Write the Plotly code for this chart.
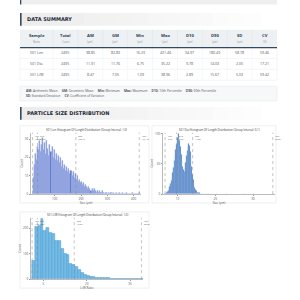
import plotly.graph_objects as go

# ---------------- data ----------------
samples = ["501 Len", "501 Dia", "501 L/W"]
total_count = [2495, 2495, 2495]
am = [98.85, 11.91, 8.47]
gm = [82.83, 11.76, 7.05]
mins = [16.23, 6.75, 1.09]
maxs = [421.46, 35.22, 38.96]
d10 = [34.97, 9.78, 2.89]
d90 = [180.49, 14.03, 15.67]
sd = [58.78, 2.05, 5.03]
cv = [59.46, 17.21, 59.42]

header_names = ["Sample", "Total", "AM", "GM", "Min", "Max", "D10", "D90", "SD", "CV"]
header_units = ["Name", "Count", "(µm)", "(µm)", "(µm)", "(µm)", "(µm)", "(µm)", "(µm)", "(%)"]

chart_titles = [
    "501 Len Histogram Of Length Distribution (Group Interval: 1.0)",
    "501 Dia Histogram Of Length Distribution (Group Interval: 0.1)",
    "501 L/W Histogram Of Length Distribution (Group Interval: 1.0)",
]

# Len histogram (bin start 16, width 4)
len_bin_start = 16
len_bin_width = 4
len_counts = [9, 16, 22, 19, 26, 24, 29, 23, 27, 31, 24, 28, 22, 29, 25, 21, 27, 23, 26, 20,
              24, 19, 22, 18, 21, 17, 20, 15, 18, 14, 16, 13, 15, 12, 14, 11, 13, 10, 12, 9,
              11, 8, 10, 7, 8, 6, 7, 5, 6, 4, 5, 4, 3, 4, 3, 2, 3, 2, 3, 2,
              1, 2, 1, 2, 1, 1, 2, 1, 0, 1, 1, 0, 1, 0, 1, 0, 1, 0, 0, 1,
              0, 0, 1, 0, 0, 1, 0, 0, 0, 1, 0, 0, 0, 0, 1, 0, 0, 0, 0, 0,
              0, 1]

# Dia histogram
dia_x = [6.6, 6.8, 7.0, 7.2, 7.4, 7.6, 7.8, 8.0, 8.2, 8.4, 8.6, 8.8, 9.0, 9.2, 9.4, 9.6, 9.8,
         10.0, 10.2, 10.4, 10.6, 10.8, 11.0, 11.2, 11.4, 11.6, 11.8, 12.0, 12.2, 12.4, 12.6,
         12.8, 13.0, 13.2, 13.4, 13.6, 13.8, 14.0, 14.2, 14.4, 14.6, 14.8, 15.0, 15.2, 15.4,
         15.6, 15.8, 16.0, 16.4, 17.0, 17.6, 18.2, 19.0, 20.4, 21.8, 23.0, 25.2, 27.4, 30.2, 35.2]
dia_counts = [1, 1, 2, 2, 4, 6, 9, 13, 17, 22, 28, 36, 44, 55, 63, 74, 82,
              93, 100, 96, 89, 78, 66, 55, 46, 40, 38, 43, 52, 63, 72,
              79, 83, 80, 71, 60, 46, 33, 24, 16, 11, 8, 6, 4, 3,
              3, 2, 2, 1, 1, 1, 1, 1, 1, 1, 1, 1, 1, 1, 1]

# L/W histogram (bin start 1, width 1)
lw_bin_start = 1
lw_counts = [72, 205, 210, 235, 190, 200, 180, 178, 152, 150, 118, 100, 94, 60, 56, 50, 36, 24,
             18, 13, 10, 8, 7, 6, 5, 4, 4, 3, 2, 2, 2, 1, 1, 1, 1, 0, 1, 0, 1]

legend_line1 = ["AM: Arithmetic Mean", "GM: Geometric Mean", "Min: Minimum", "Max: Maximum",
                "D10: 10th Percentile", "D90: 90th Percentile"]
legend_line2 = ["SD: Standard Deviation", "CV: Coefficient of Variation"]

# ---------------- helpers ----------------
W = H = 300
def px(x):
    return x / W
def py(y):
    return 1 - y / H

FONT = "Open Sans"
HEAD_FONT = "DejaVu Sans"
DARK = "#2c3e50"

fig = go.Figure()
shapes = []
annotations = []

def rect(x0, x1, y0, y1, fill, line_color=None, lw=0, layer="below"):
    shapes.append(dict(type="rect", xref="paper", yref="paper", x0=px(x0), x1=px(x1), y0=py(y1), y1=py(y0),
                       fillcolor=fill, line=dict(color=line_color or fill, width=lw), layer=layer))

def hline(x0, x1, y, color, w):
    shapes.append(dict(type="line", xref="paper", yref="paper", x0=px(x0), x1=px(x1), y0=py(y), y1=py(y),
                       line=dict(color=color, width=w), layer="above"))

def vline(x, y0, y1, color, w):
    shapes.append(dict(type="line", xref="paper", yref="paper", x0=px(x), x1=px(x), y0=py(y0), y1=py(y1),
                       line=dict(color=color, width=w), layer="above"))

def text(x, y, s, size, color, xanchor="center", family=FONT):
    annotations.append(dict(x=px(x), y=py(y), xref="paper", yref="paper", text=s, showarrow=False,
                            xanchor=xanchor, yanchor="middle", font=dict(family=family, size=size, color=color)))

# top remnant band
rect(20, 277, -1, 3.5, "#efefef")
rect(20, 21.3, -1, 3.5, "#34495e")

def heading(y0, y1, label):
    n = 16
    for i in range(n):
        c = int(0xEC + (0xFF - 0xEC) * i / (n - 1))
        xa = 20 + (277 - 20) * i / n
        xb = 20 + (277 - 20) * (i + 1) / n + 0.5
        rect(xa, xb, y0, y1, f"rgb({c},{c},{c})")
    rect(20, 21.6, y0, y1, "#34495e")
    text(25, (y0 + y1) / 2, f"<b>{label}</b>", 5, "#1c2833", xanchor="left", family=HEAD_FONT)

heading(12, 25, "DATA SUMMARY")
heading(107, 120, "PARTICLE SIZE DISTRIBUTION")

# ---------------- table (shapes + text) ----------------
tbl_x0, tbl_x1 = 20, 277
col_w = [33] + [(tbl_x1 - tbl_x0 - 33) / 9] * 9
col_edges = [tbl_x0]
for w in col_w:
    col_edges.append(col_edges[-1] + w)
head_y0, head_y1 = 29, 47
row_h = 11

rect(tbl_x0, tbl_x1, head_y0, head_y1, "#eef1f4")
rows_y1 = head_y1 + row_h * len(samples)
rect(tbl_x0, tbl_x1, head_y1, rows_y1, "white", "#e6e9ec", 0.5)
for e in col_edges[1:-1]:
    vline(e, head_y0, head_y1, "#dde2e7", 0.5)
    vline(e, head_y1, rows_y1, "#eceef0", 0.5)
for r in range(1, len(samples)):
    hline(tbl_x0, tbl_x1, head_y1 + r * row_h, "#e8eaed", 0.5)
hline(tbl_x0, tbl_x1, head_y1, "#34495e", 1.2)

centers = [(col_edges[i] + col_edges[i + 1]) / 2 for i in range(len(col_w))]
for c, n, u in zip(centers, header_names, header_units):
    text(c, 35.0, f"<b>{n}</b>", 4.2, DARK)
    text(c, 41.5, u, 2.6, "#8a96a3")

cols = [samples, [str(v) for v in total_count],
        [f"{v:.2f}" for v in am], [f"{v:.2f}" for v in gm], [f"{v:.2f}" for v in mins],
        [f"{v:.2f}" for v in maxs], [f"{v:.2f}" for v in d10], [f"{v:.2f}" for v in d90],
        [f"{v:.2f}" for v in sd], [f"{v:.2f}" for v in cv]]
for ci, col in enumerate(cols):
    for ri, val in enumerate(col):
        text(centers[ci], head_y1 + row_h * ri + row_h / 2, val, 3.6, "#555555")

# legend box
rect(20, 277, 86, 101, "#f7f8f9", "#e3e6e9", 0.5)
def legend_text(items):
    parts = []
    for it in items:
        k, v = it.split(": ", 1)
        parts.append(f"<b>{k}:</b> {v}")
    return "&nbsp;&nbsp;&nbsp;&nbsp;&nbsp;".join(parts)
text(24, 90.5, legend_text(legend_line1), 3.2, "#555555", xanchor="left")
text(24, 95.5, legend_text(legend_line2), 3.2, "#555555", xanchor="left")

# ---------------- chart panels ----------------
panels = [(20, 149, 126, 204), (152, 276, 126, 204), (20, 149, 213, 290)]
for (x0, x1, y0, y1) in panels:
    rect(x0, x1, y0, y1, "white", "#e4e6e8", 0.6)

plot_areas = [(31, 141, 133, 195), (163, 275, 133, 195), (31, 143, 219, 281)]
x_ranges = [[10, 428], [6.2, 35.8], [0.7, 39.5]]
y_ranges = [[0, 33.5], [0, 102], [0, 240]]
x_ticks = [[100, 200, 300, 400], [10, 20, 30], [5, 20, 35]]
y_ticks = [[0, 10, 20, 30], [0, 50, 100], [0, 100, 200]]
x_titles = ["Size (µm)", "Size (µm)", "L/W Ratio"]

len_x = [len_bin_start + len_bin_width * (i + 0.5) for i in range(len(len_counts))]
lw_x = [lw_bin_start + i + 0.5 for i in range(len(lw_counts))]

fig.add_trace(go.Bar(x=len_x, y=len_counts, width=len_bin_width, xaxis="x", yaxis="y",
                     marker=dict(color="#5679cb", line=dict(color="rgba(190,195,240,0.95)", width=0.4)),
                     showlegend=False))
fig.add_trace(go.Bar(x=dia_x, y=dia_counts, width=0.2, xaxis="x2", yaxis="y2",
                     marker=dict(color="#4d7fc5", line=dict(color="rgba(160,190,235,0.9)", width=0.2)),
                     showlegend=False))
fig.add_trace(go.Bar(x=lw_x, y=lw_counts, width=1, xaxis="x3", yaxis="y3",
                     marker=dict(color="#74bbe6", line=dict(color="#3d8fc9", width=0.4)),
                     showlegend=False))

layout_axes = {}
for i in range(3):
    sx = "" if i == 0 else str(i + 1)
    xa, xb, ya, yb = plot_areas[i]
    layout_axes[f"xaxis{sx}"] = dict(domain=[px(xa), px(xb)], range=x_ranges[i], anchor=f"y{sx}",
                                      tickvals=x_ticks[i], showgrid=False, zeroline=False,
                                      showline=True, linecolor="#bbbbbb", linewidth=0.5,
                                      ticks="outside", ticklen=1.5, tickwidth=0.4, tickcolor="#999",
                                      tickfont=dict(family=FONT, size=3, color="#555"),
                                      title=dict(text=x_titles[i], font=dict(family=FONT, size=3, color="#555"),
                                                 standoff=1))
    layout_axes[f"yaxis{sx}"] = dict(domain=[py(yb), py(ya)], range=y_ranges[i], anchor=f"x{sx}",
                                      tickvals=y_ticks[i], showgrid=False, zeroline=False,
                                      showline=True, linecolor="#bbbbbb", linewidth=0.5,
                                      ticks="outside", ticklen=1.5, tickwidth=0.4, tickcolor="#999",
                                      tickfont=dict(family=FONT, size=3, color="#555"),
                                      title=dict(text="Count", font=dict(family=FONT, size=3, color="#555"),
                                                 standoff=1))
    annotations.append(dict(x=px((xa + xb) / 2), y=py(ya - 3), xref="paper", yref="paper",
                            text=chart_titles[i], showarrow=False, xanchor="center", yanchor="middle",
                            font=dict(family=FONT, size=2.8, color="#333")))
    for name, val in [("Min", mins[i]), ("D10", d10[i]), ("D90", d90[i]), ("Max", maxs[i])]:
        shapes.append(dict(type="line", xref=f"x{sx}", yref=f"y{sx} domain", x0=val, x1=val, y0=0, y1=1,
                           line=dict(color="#888888", width=0.5, dash="dot"), layer="above"))
        annotations.append(dict(x=val, y=1, xref=f"x{sx}", yref=f"y{sx} domain",
                                text=f"{name}<br>{val:.2f}", showarrow=False, xanchor="left", yanchor="top",
                                xshift=0.5, align="left",
                                font=dict(family=FONT, size=2.2, color="#555")))

fig.update_layout(
    width=W, height=H, margin=dict(l=0, r=0, t=0, b=0),
    paper_bgcolor="white", plot_bgcolor="white",
    shapes=shapes, annotations=annotations, bargap=0, showlegend=False,
    **layout_axes,
)

fig.write_html("out.html")
